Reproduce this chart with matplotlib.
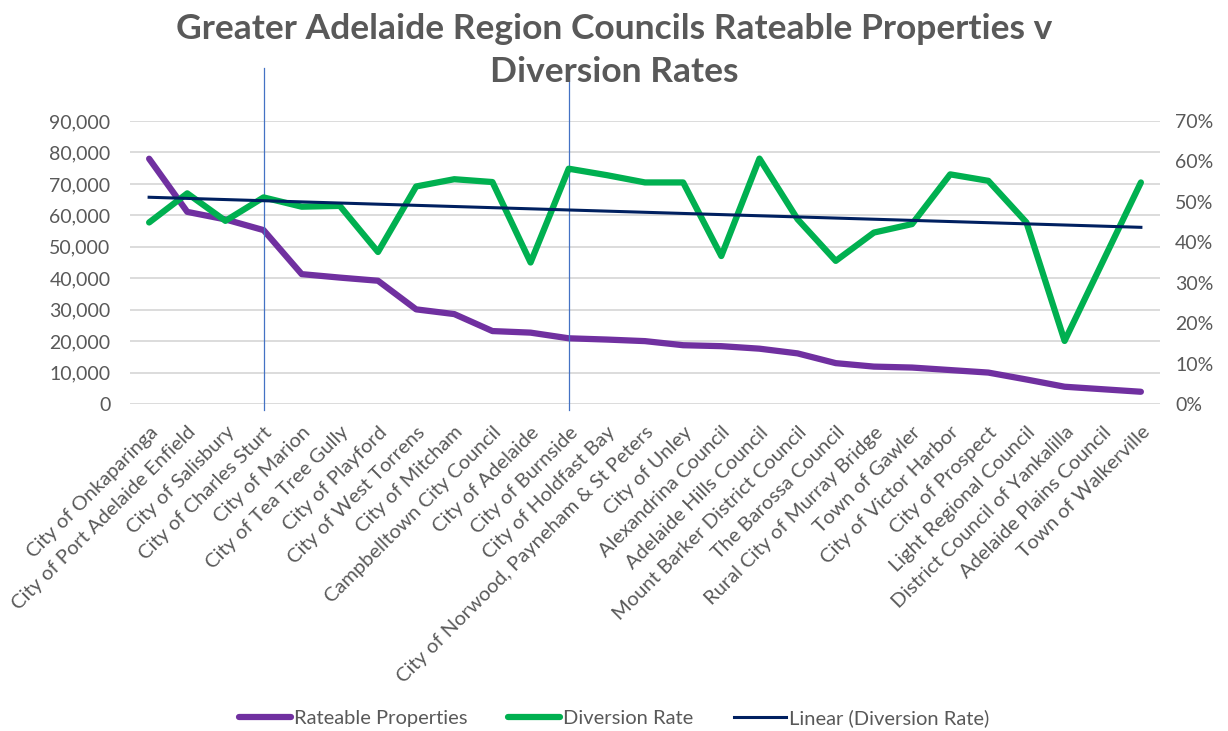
import numpy as np
import matplotlib
matplotlib.use("Agg")
import matplotlib.pyplot as plt
from matplotlib.ticker import FuncFormatter, MultipleLocator

plt.rcParams["font.family"] = ["Lato", "DejaVu Sans"]

# ---- data
councils = [
    "City of Onkaparinga", "City of Port Adelaide Enfield", "City of Salisbury",
    "City of Charles Sturt", "City of Marion", "City of Tea Tree Gully",
    "City of Playford", "City of West Torrens", "City of Mitcham",
    "Campbelltown City Council", "City of Adelaide", "City of Burnside",
    "City of Holdfast Bay", "City of Norwood, Payneham & St Peters",
    "City of Unley", "Alexandrina Council", "Adelaide Hills Council",
    "Mount Barker District Council", "The Barossa Council",
    "Rural City of Murray Bridge", "Town of Gawler", "City of Victor Harbor",
    "City of Prospect", "Light Regional Council",
    "District Council of Yankalilla", "Adelaide Plains Council",
    "Town of Walkerville",
]
rateable = [
    78000, 61100, 58700, 55300, 41300, 40200, 39200, 30100, 28600,
    23200, 22700, 20900, 20500, 20000, 18700, 18400, 17600, 16100,
    13000, 11900, 11600, 10800, 10000, 7800, 5500, 4700, 3900,
]
diversion = [
    44.9, 52.1, 45.3, 51.1, 48.8, 49.0, 37.6, 53.8, 55.6,
    54.9, 35.0, 58.2, 56.6, 54.8, 54.8, 36.6, 60.7, 45.7,
    35.4, 42.4, 44.5, 56.8, 55.2, 44.9, 15.6, 35.2, 54.8,
]
marked = ["City of Charles Sturt", "City of Burnside"]

PURPLE = "#7030A0"
GREEN = "#00B050"
NAVY = "#002060"
GREY = "#595959"

x = np.arange(len(councils))
div = np.array(diversion) / 100.0
slope, icpt = np.polyfit(x, div, 1)
trend = slope * x + icpt

fig = plt.figure(figsize=(12.28, 7.31), dpi=100)
ax = fig.add_axes([0.1059, 0.4473, 0.8387, 0.3872])
ax2 = ax.twinx()

ax.plot(x, rateable, color=PURPLE, lw=4.5, solid_joinstyle="round",
        solid_capstyle="round", label="Rateable Properties")
ax2.plot(x, div, color=GREEN, lw=4.5, solid_joinstyle="round",
         solid_capstyle="round", label="Diversion Rate")
ax2.plot(x, trend, color=NAVY, lw=2.2, label="Linear (Diversion Rate)")

for name in marked:
    ax.axvline(councils.index(name), ymin=-0.021, ymax=1.187, color="#4472C4",
               lw=0.9, clip_on=False, zorder=5)

ax.set_xlim(-0.5, len(councils) - 0.5)
ax.set_ylim(0, 90000)
ax2.set_ylim(0, 0.70)
ax.yaxis.set_major_locator(MultipleLocator(10000))
ax2.yaxis.set_major_locator(MultipleLocator(0.1))
ax.yaxis.set_major_formatter(FuncFormatter(lambda v, p: f"{v:,.0f}"))
ax2.yaxis.set_major_formatter(FuncFormatter(lambda v, p: f"{v*100:.0f}%"))

ax.grid(axis="y", color="#D9D9D9", lw=1.3)
ax.set_axisbelow(True)
for a in (ax, ax2):
    for s in a.spines.values():
        s.set_visible(False)
    a.tick_params(length=0, labelsize=14, labelcolor=GREY)
ax.tick_params(axis="y", pad=14)
ax2.tick_params(axis="y", pad=11)

ax.set_xticks(x)
ax.set_xticklabels(councils, rotation=45, ha="right", va="top",
                   rotation_mode="anchor", fontsize=14.5, color=GREY)
ax.tick_params(axis="x", pad=14)

fig.text(0.5, 0.961, "Greater Adelaide Region Councils Rateable Properties v",
         ha="center", va="center", fontsize=25.5, fontweight="bold", color=GREY)
fig.text(0.5, 0.902, "Diversion Rates",
         ha="center", va="center", fontsize=25.5, fontweight="bold", color=GREY)

h1, l1 = ax.get_legend_handles_labels()
h2, l2 = ax2.get_legend_handles_labels()
leg = fig.legend(h1 + h2, l1 + l2, loc="center", bbox_to_anchor=(0.5, 0.018),
                 ncol=3, frameon=False, fontsize=14.5, handlelength=2.6,
                 handletextpad=0.15, columnspacing=2.0)
for t in leg.get_texts():
    t.set_color(GREY)

fig.savefig("out.png", dpi=100)
